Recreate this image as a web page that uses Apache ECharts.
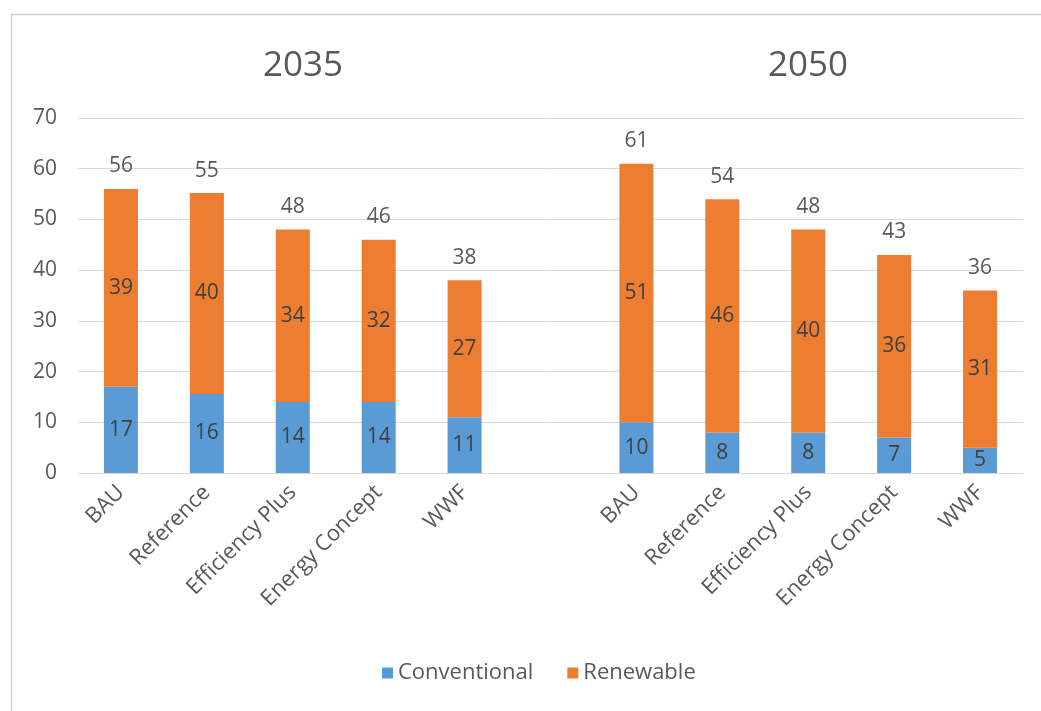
<!DOCTYPE html>
<html>
<head>
<meta charset="utf-8">
<script src="https://cdn.jsdelivr.net/npm/echarts@6/dist/echarts.min.js"></script>
<style>
html,body{margin:0;padding:0;background:#fff;}
#chart{width:1041px;height:711px;}
</style>
</head>
<body>
<div id="chart"></div>
<script>
var categories = ['BAU','Reference','Efficiency Plus','Energy Concept','WWF','','BAU','Reference','Efficiency Plus','Energy Concept','WWF'];
var conventional = [17, 15.6, 14, 14, 11, '-', 10, 8, 8, 7, 5];
var renewable = [39, 39.6, 34, 32, 27, '-', 51, 46, 40, 36, 31];
var groupTitles = ['2035', '2050'];
var seriesNames = ['Conventional', 'Renewable'];

var FONT = '"Open Sans", "Liberation Sans", sans-serif';
var chart = echarts.init(document.getElementById('chart'));

function num(v){ return typeof v === 'number' ? v : 0; }

chart.setOption({
  backgroundColor: '#fff',
  animation: false,
  textStyle: { fontFamily: FONT },
  title: [
    { text: groupTitles[0], left: 298, top: 44, textAlign: 'center',
      textStyle: { fontFamily: FONT, fontSize: 35, fontWeight: 'normal', color: '#595959' } },
    { text: groupTitles[1], left: 803, top: 44, textAlign: 'center',
      textStyle: { fontFamily: FONT, fontSize: 35, fontWeight: 'normal', color: '#595959' } }
  ],
  graphic: [{
    type: 'rect', left: 9, top: 12, z: -1,
    shape: { width: 1100, height: 800 },
    style: { fill: 'none', stroke: '#d0d0d0', lineWidth: 1.5 }
  }],
  legend: {
    data: seriesNames,
    bottom: 22,
    left: 377,
    itemWidth: 11, itemHeight: 11, itemGap: 34,
    icon: 'rect',
    textStyle: { fontFamily: FONT, fontSize: 22, color: '#595959' }
  },
  grid: { left: 78, right: 18, top: 118, bottom: 238 },
  xAxis: {
    type: 'category',
    data: categories,
    axisTick: { show: false },
    axisLine: { lineStyle: { color: '#d9d9d9', width: 1 } },
    axisLabel: { rotate: 45, interval: 0, margin: 16, color: '#595959', fontSize: 22, fontFamily: FONT }
  },
  yAxis: {
    type: 'value', min: 0, max: 70, interval: 10,
    axisLine: { show: false },
    axisTick: { show: false },
    splitLine: { lineStyle: { color: '#d9d9d9', width: 1 } },
    axisLabel: { color: '#595959', fontSize: 21, margin: 21, fontFamily: FONT }
  },
  series: [
    {
      name: seriesNames[0], type: 'bar', stack: 'total', barWidth: 34,
      data: conventional,
      itemStyle: { color: '#5B9BD5' },
      label: { show: true, position: 'inside', color: '#404040', fontSize: 21, fontFamily: FONT,
        formatter: function(p){ return Math.round(p.value); } }
    },
    {
      name: seriesNames[1], type: 'bar', stack: 'total', barWidth: 34,
      data: renewable,
      itemStyle: { color: '#ED7D31' },
      label: { show: true, position: 'inside', color: '#404040', fontSize: 21, fontFamily: FONT,
        formatter: function(p){ return Math.round(p.value); } }
    },
    {
      name: 'Total', type: 'bar', stack: 'total', barWidth: 34,
      data: categories.map(function(c, i){ return conventional[i] === '-' ? '-' : 0; }),
      itemStyle: { color: 'rgba(0,0,0,0)' },
      tooltip: { show: false },
      label: { show: true, position: 'top', distance: 12, color: '#595959', fontSize: 21, fontFamily: FONT,
        formatter: function(p){ return Math.round(num(conventional[p.dataIndex]) + num(renewable[p.dataIndex])); } }
    }
  ]
});
</script>
</body>
</html>
